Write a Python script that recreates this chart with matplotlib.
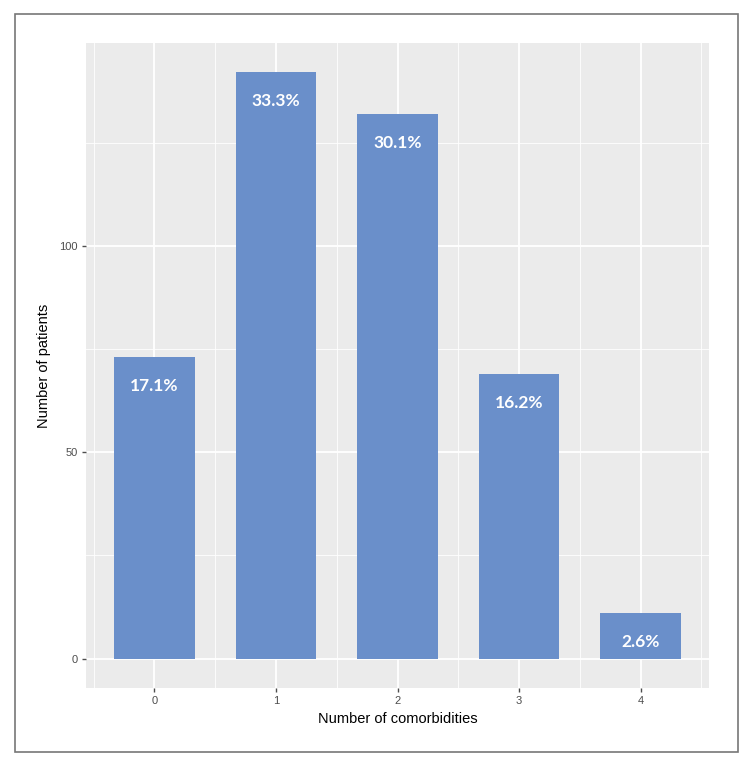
import matplotlib
matplotlib.use("Agg")
import matplotlib.pyplot as plt
from matplotlib.patches import Rectangle
from matplotlib.ticker import MultipleLocator, FixedLocator

categories = [0, 1, 2, 3, 4]
patients = [73, 142, 132, 69, 11]
pct_labels = ["17.1%", "33.3%", "30.1%", "16.2%", "2.6%"]
y_ticks = [0, 50, 100]

bar_color = "#6A8FCA"
panel_bg = "#EBEBEB"
bar_width = 0.66

fig = plt.figure(figsize=(7.53, 7.69), dpi=100)
ax = fig.add_axes([86 / 753, (769 - 688) / 769, 623 / 753, 645 / 769])
ax.set_facecolor(panel_bg)

# ggplot-like expansion
xlo, xhi = min(categories) - bar_width / 2, max(categories) + bar_width / 2
xr = xhi - xlo
ax.set_xlim(xlo - 0.05 * xr, xhi + 0.05 * xr)
ymax = max(patients)
ax.set_ylim(-0.05 * ymax, ymax * 1.05)

ax.set_xticks(categories)
ax.set_xticks([c - 0.5 for c in categories] + [max(categories) + 0.5], minor=True)
ax.set_yticks(y_ticks)
ax.yaxis.set_minor_locator(FixedLocator([25, 75, 125]))

ax.grid(which="major", color="white", linewidth=1.3)
ax.grid(which="minor", color="white", linewidth=0.6)
ax.set_axisbelow(True)
for s in ax.spines.values():
    s.set_visible(False)

ax.bar(categories, patients, width=bar_width, color=bar_color, zorder=3)

for c, v, lab in zip(categories, patients, pct_labels):
    ax.annotate(lab, (c, v), xytext=(0, -21), textcoords="offset points",
                ha="center", va="center", color="white", fontsize=12.5,
                fontweight="bold", family="Lato", zorder=4)

ax.tick_params(axis="both", which="major", length=3, width=1, color="#4D4D4D",
               labelcolor="#4D4D4D", labelsize=8, pad=3)
ax.tick_params(axis="both", which="minor", length=0)
for t in ax.get_xticklabels() + ax.get_yticklabels():
    t.set_family("Liberation Sans")

ax.set_xlabel("Number of comorbidities", fontsize=10.5, family="Liberation Sans",
              color="black", labelpad=4)
ax.set_ylabel("Number of patients", fontsize=10.5, family="Liberation Sans",
              color="black", labelpad=6)

border = Rectangle((15 / 753, (769 - 752) / 769), (738 - 15) / 753, (752 - 14) / 769,
                   transform=fig.transFigure, fill=False, edgecolor="#777777",
                   linewidth=1.2)
fig.patches.append(border)

fig.savefig("out.png", dpi=100, facecolor="white")
